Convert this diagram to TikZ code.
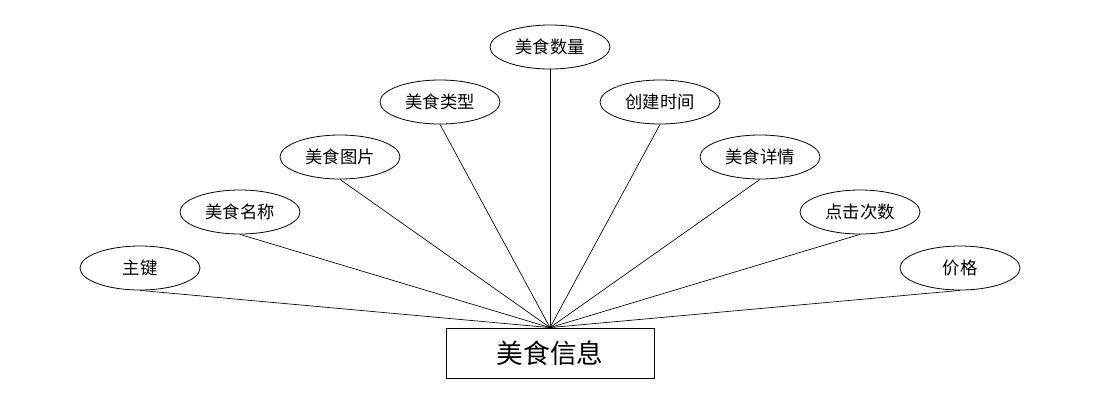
\documentclass[tikz,border=0pt]{standalone}
\usepackage{fontspec}
\setmainfont{Noto Sans CJK SC}
\usetikzlibrary{shapes.geometric}
\begin{document}
\begin{tikzpicture}[x=0.75pt,y=-0.75pt,
  attr/.style={ellipse,draw,line width=0.6pt,minimum width=90pt,minimum height=33pt,inner sep=0pt,font=\fontsize{13pt}{15pt}\selectfont},
  ent/.style={rectangle,draw,line width=0.6pt,minimum width=156pt,minimum height=37.5pt,inner sep=0pt,font=\fontsize{20pt}{24pt}\selectfont},
  link/.style={line width=0.5pt}]
\useasboundingbox (0,0) rectangle (1100,408);
\node[ent] (r) at (550,353) {美食信息};
\node[attr] (a1) at (140,268) {主键};
\node[attr] (a2) at (240,212) {美食名称};
\node[attr] (a3) at (340,157) {美食图片};
\node[attr] (a4) at (440,102) {美食类型};
\node[attr] (a5) at (550,47) {美食数量};
\node[attr] (a6) at (660,102) {创建时间};
\node[attr] (a7) at (760,157) {美食详情};
\node[attr] (a8) at (860,212) {点击次数};
\node[attr] (a9) at (960,268) {价格};
\foreach \i in {1,...,9} \draw[link] (a\i.south) -- (r.north);
\end{tikzpicture}
\end{document}
